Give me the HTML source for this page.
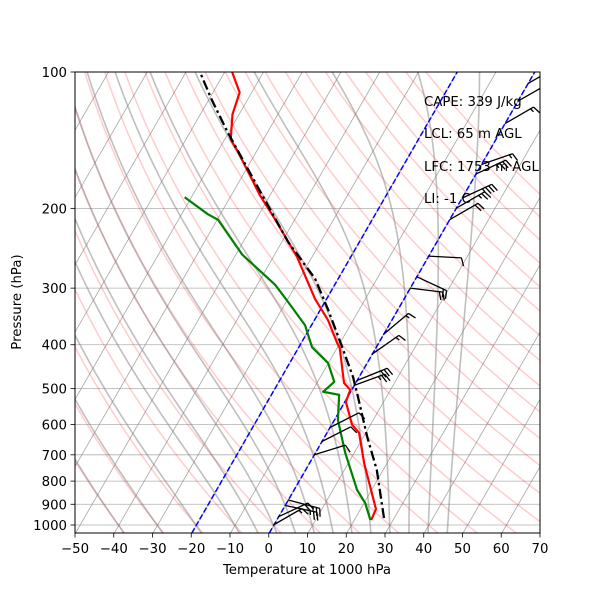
<!DOCTYPE html>
<html><head><meta charset="utf-8"><style>
html,body{margin:0;padding:0;background:#fff;}
svg{display:block;font-family:"DejaVu Sans","Liberation Sans",sans-serif;}
</style></head><body>
<svg id="chart" width="600" height="600" viewBox="0 0 600 600" xmlns="http://www.w3.org/2000/svg">
<defs><clipPath id="clip"><rect x="75" y="72" width="465" height="461"/></clipPath></defs>
<g id="bg" clip-path="url(#clip)"></g>
<g id="data" clip-path="url(#clip)"></g>
<g id="barbs" clip-path="url(#clip)"></g>
<rect x="75" y="72" width="465" height="461" fill="none" stroke="#000" stroke-width="1"/>
<g id="axes"></g>
<g font-size="13.3" fill="#000">
<text x="424" y="106">CAPE: 339 J/kg</text>
<text x="424" y="138">LCL: 65 m AGL</text>
<text x="424" y="171">LFC: 1753 m AGL</text>
<text x="424" y="203">LI: -1 C</text>
</g>
<text x="307" y="574" font-size="13.3" text-anchor="middle">Temperature at 1000 hPa</text>
<text x="0" y="0" font-size="13.3" text-anchor="middle" transform="translate(21,302) rotate(-90)">Pressure (hPa)</text>
</svg>
<script>
const tempP=[975,922,730,626,601,535,503,486,407,396,353,317,256,211,187,150,141,124,111,100];
const tempT=[24.5,24.1,14.2,8.4,5.4,0.4,-0.3,-2.9,-9.2,-10.7,-16.4,-22.9,-33.8,-45.2,-52.6,-64.7,-68.4,-71.7,-73.1,-78.1];
const dewP=[975,894,837,693,586,516,508,483,439,405,362,319,295,253,212,206,189];
const dewT=[24.3,20.4,16.4,7.8,1,-2.4,-7,-5.6,-10,-16.5,-21.6,-30,-35.3,-48.3,-59.7,-63.2,-71.7];
const parcelP=[965,756,639,522,471,391,335,286,237,197,164,136,115,100];
const parcelT=[27.5,18.5,11.1,2.8,-1.5,-10.4,-17.9,-25.9,-38.4,-49,-59.5,-70.2,-79.3,-86.4];
const barbP=[1000,960,905,880,700,655,610,492,480,420,380,300,283,255,212,200,190,168,160,130,116,106];
const barbAngle=[-30,-25,12,15,-17,-27,-27,-20,-22,-35,-40,7,25,3,-30,-30,-25,-25,-19,-30,-30,-30];
const barbSpeed=[15,20,25,25,10,10,10,25,30,15,15,20,20,10,20,25,35,35,15,15,20,25];
const xTicks=[-50,-40,-30,-20,-10,0,10,20,30,40,50,60,70];
const pTicks=[100,200,300,400,500,600,700,800,900,1000];

const NS='http://www.w3.org/2000/svg';
function Y(p){return 72+453*Math.log10(p/100);}
function X(T,p){return 75+(T+50)*3.875+(533-Y(p))*0.577;}
function mk(tag,attrs,parent){const e=document.createElementNS(NS,tag);for(const k in attrs)e.setAttribute(k,attrs[k]);parent.appendChild(e);return e;}
function pathFrom(ps,ts){let d='';for(let i=0;i<ps.length;i++){d+=(i?'L':'M')+X(ts[i],ps[i]).toFixed(2)+','+Y(ps[i]).toFixed(2);}return d;}
const bg=document.getElementById('bg'),dg=document.getElementById('data'),bb=document.getElementById('barbs'),ax=document.getElementById('axes');

for(const p of pTicks){
  const l=mk('line',{x1:75,x2:540,y1:Y(p),y2:Y(p),stroke:'#b0b0b0','stroke-width':0.8},bg);
  
  
}
for(let T=-160;T<=70;T+=10){
  const l=mk('line',{x1:X(T,1036),y1:533,x2:X(T,100),y2:72,stroke:'#808080','stroke-width':0.8,'stroke-opacity':0.7},bg);
  
  
}
const presLevels=[];for(let p=1050;p>=95;p-=5)presLevels.push(p);
for(let th=-40;th<=200;th+=10){
  const ts=presLevels.map(p=>(th+273.15)*Math.pow(p/1000,0.2857)-273.15);
  const e=mk('path',{d:pathFrom(presLevels,ts),fill:'none',stroke:'rgb(255,0,0)','stroke-opacity':0.2,'stroke-width':1.5},bg);
  
  
}
function es(Tc){return 6.112*Math.exp(17.67*Tc/(Tc+243.5));}
function dTdp(T,p){const Rd=287.04,Cp=1005.7,Lv=2.501e6,eps=0.622;const Tc=T-273.15;const e=es(Tc);const rs=eps*e/(p-e);
  return (1/p)*(Rd*T+Lv*rs)/(Cp+Lv*Lv*rs*eps/(Rd*T*T));}
function moist(t0){const ps=[],ts=[];let T=t0+273.15;
  let p=1000;const down=[];let Td=T;for(let q=1000;q<1050;q+=5){Td+=dTdp(Td,q)*5;down.push([q+5,Td]);}
  down.reverse().forEach(a=>{ps.push(a[0]);ts.push(a[1]-273.15);});
  ps.push(1000);ts.push(t0);
  while(p>100){const h=-5;const k1=dTdp(T,p),k2=dTdp(T+h*k1/2,p+h/2);T+=h*k2;p+=h;ps.push(p);ts.push(T-273.15);}
  return [ps,ts];}
const moistStarts=[-40,-30,-20,-10,-5,0,5,10,15,20,25,30,35,40,45];
for(const t0 of moistStarts){
  const [ps,ts]=moist(t0);
  const e=mk('path',{d:pathFrom(ps,ts),fill:'none',stroke:'#808080','stroke-opacity':0.5,'stroke-width':1.6},bg);
  
  
}
for(const T of [-20,0]){
  const l=mk('line',{x1:X(T,1036),y1:533,x2:X(T,100),y2:72,stroke:'#0000ff','stroke-width':1.5,'stroke-dasharray':'5.5,2.4'},bg);
  
  
}
let e=mk('path',{d:pathFrom(tempP,tempT),fill:'none',stroke:'#ff0000','stroke-width':2.2,'stroke-linejoin':'round'},dg);


e=mk('path',{d:pathFrom(dewP,dewT),fill:'none',stroke:'#008000','stroke-width':2.2,'stroke-linejoin':'round'},dg);


e=mk('path',{d:pathFrom(parcelP,parcelT),fill:'none',stroke:'#000','stroke-width':2.3,'stroke-dasharray':'10,3.5,2.5,3.5'},dg);


for(let i=0;i<barbP.length;i++){
  const bx=X(0,barbP[i]),by=Y(barbP[i]);const a=barbAngle[i]*Math.PI/180;
  const dx=Math.cos(a),dy=Math.sin(a),px=-dy,py=dx;const L=33;
  const tx=bx+dx*L,ty=by+dy*L;
  const g=mk('g',{stroke:'#000','stroke-width':1.3,fill:'none'},bb);
  
  
  mk('line',{x1:bx,y1:by,x2:tx,y2:ty},g);
  let s=barbSpeed[i];let pos=0;
  while(s>=10){const sx=tx-dx*pos,sy=ty-dy*pos;mk('line',{x1:sx,y1:sy,x2:sx+px*8+dx*2.5,y2:sy+py*8+dy*2.5},g);pos+=3.5;s-=10;}
  if(s>=5){if(pos===0)pos=3.5;const sx=tx-dx*pos,sy=ty-dy*pos;mk('line',{x1:sx,y1:sy,x2:sx+px*4+dx*1.2,y2:sy+py*4+dy*1.2},g);}
}
for(const t of xTicks){
  const x=75+(t+50)*3.875;
  let l=mk('line',{x1:x,x2:x,y1:533,y2:537.5,stroke:'#000','stroke-width':0.8},ax);
  
  
  const tx=mk('text',{x:x,y:553,'font-size':13.3,'text-anchor':'middle'},ax);tx.textContent=(t<0?'\u2212'+(-t):t);
  
  
}
for(const p of pTicks){
  const y=Y(p);
  let l=mk('line',{x1:70.5,x2:75,y1:y,y2:y,stroke:'#000','stroke-width':0.8},ax);
  
  
  const tx=mk('text',{x:67,y:y+5,'font-size':13.3,'text-anchor':'end'},ax);tx.textContent=p;
  
  
}
</script>
</body></html>
